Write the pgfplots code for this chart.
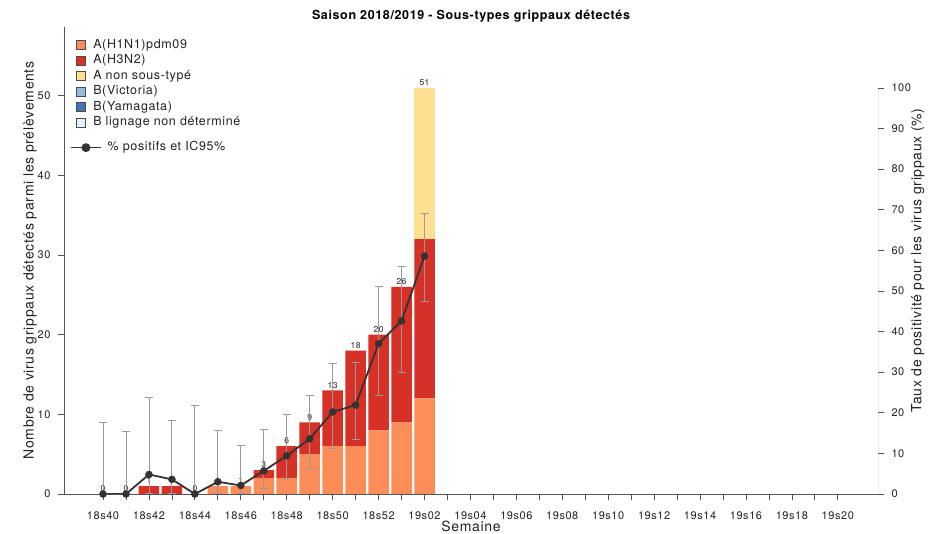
\documentclass[border=0pt]{standalone}
\usepackage{fontspec}
\setmainfont{TeX Gyre Heros}[LetterSpace=5]
\usepackage{pgfplots}
\pgfplotsset{compat=1.18}
\usepackage{pgfplotstable}

\definecolor{cHa}{HTML}{FC8D59}
\definecolor{cHb}{HTML}{D73027}
\definecolor{cAn}{HTML}{FEE090}
\definecolor{cBv}{HTML}{91BFDB}
\definecolor{cBy}{HTML}{4575B4}
\definecolor{cBn}{HTML}{E0F3F8}
\definecolor{axc}{HTML}{555555}
\definecolor{txc}{HTML}{222222}
\definecolor{lc}{HTML}{333333}
\definecolor{erc}{HTML}{9A9A9A}

\pgfplotstableread{
x h1 h3 anst bvic byam bnd tot
0 0 0 0 0 0 0 0
1 0 0 0 0 0 0 0
2 0 1 0 0 0 0 1
3 0 1 0 0 0 0 1
4 0 0 0 0 0 0 0
5 1 0 0 0 0 0 1
6 1 0 0 0 0 0 1
7 2 1 0 0 0 0 3
8 2 4 0 0 0 0 6
9 5 4 0 0 0 0 9
10 6 7 0 0 0 0 13
11 6 12 0 0 0 0 18
12 8 12 0 0 0 0 20
13 9 17 0 0 0 0 26
14 12 20 19 0 0 0 51
}\bars

\pgfplotstableread{
x p ep em
0 0 17.6 0
1 0 15.3 0
2 4.8 18.9 4.7
3 3.6 14.6 3.5
4 0 21.7 0
5 3.0 12.6 2.9
6 2.1 9.9 2.0
7 5.7 10.1 4.4
8 9.4 10.2 5.9
9 13.6 10.7 7.3
10 20.2 11.9 9.0
11 21.9 10.4 8.4
12 37.0 14.2 12.7
13 42.6 13.4 12.7
14 58.6 10.5 11.2
}\pos

\pgfplotsset{
  common/.style={
    at={(64pt,40pt)}, anchor=south west,
    width=814pt, height=467pt, scale only axis,
    xmin=-1.7, xmax=33.75,
    /pgf/number format/assume math mode=true,
  },
  sq/.style={legend image code/.code={\draw[##1,draw=black!70,line width=0.6pt] (0pt,-4.5pt) rectangle (9pt,4.5pt);}},
}

\begin{document}
\begin{tikzpicture}
\useasboundingbox (0,0) rectangle (939pt,534pt);
% bars
\begin{axis}[common,
  ymin=0, ymax=58.65,
  ybar stacked, bar width=20.5pt,
  axis x line*=bottom, axis y line*=left,
  axis line style={draw=axc, line width=0.9pt},
  xtick={0,...,32},
  xticklabels={18s40,,18s42,,18s44,,18s46,,18s48,,18s50,,18s52,,19s02,,19s04,,19s06,,19s08,,19s10,,19s12,,19s14,,19s16,,19s18,,19s20},
  ytick={0,10,...,50},
  tick align=outside, major tick length=6pt,
  tick style={draw=axc, line width=0.8pt},
  ticklabel style={font=\fontsize{11}{13}\selectfont, text=txc},
  xticklabel style={yshift=-8pt},
  yticklabel style={xshift=-4pt},
  xlabel={Semaine}, ylabel={Nombre de virus grippaux détectés parmi les prélèvements},
  xlabel style={at={(axis description cs:0.5,-0.069)}, anchor=center, font=\fontsize{14}{16}\selectfont, text=txc},
  ylabel style={at={(axis description cs:-0.0418,0.5)}, anchor=center, font=\fontsize{14}{16}\selectfont, text=txc},
  every axis title shift=0pt,
  title={Saison 2018/2019 - Sous-types grippaux détectés},
  title style={at={(axis description cs:0.5,1.024)}, anchor=center, font=\bfseries\fontsize{12.5}{14}\selectfont, text=black},
  legend style={at={(axis description cs:0.011,0.983)}, anchor=north west, draw=none, fill=none,
    font=\fontsize{12.5}{14}\selectfont, text=txc, row sep=0pt, column sep=6pt,
    nodes={inner sep=1.5pt, text height=9.5pt, text depth=3pt}},
  legend cell align=left,
]
\addplot[sq, fill=cHa, draw=none] table[x=x, y=h1]{\bars};
\addlegendentry{A(H1N1)pdm09}
\addplot[sq, fill=cHb, draw=none] table[x=x, y=h3]{\bars};
\addlegendentry{A(H3N2)}
\addplot[sq, fill=cAn, draw=none] table[x=x, y=anst]{\bars};
\addlegendentry{A non sous-typé}
\addplot[sq, fill=cBv, draw=none] table[x=x, y=bvic]{\bars};
\addlegendentry{B(Victoria)}
\addplot[sq, fill=cBy, draw=none] table[x=x, y=byam]{\bars};
\addlegendentry{B(Yamagata)}
\addplot[sq, fill=cBn, draw=none] table[x=x, y=bnd]{\bars};
\addlegendentry{B lignage non déterminé}
\end{axis}
% bar totals
\begin{axis}[common, ymin=0, ymax=58.65, hide axis, clip=false,
  nodes near coords style={font=\fontsize{8.5}{10}\selectfont, anchor=south, inner sep=2pt, text=txc}]
\addplot[draw=none, mark=none, nodes near coords, point meta=explicit] table[x=x, y=tot, meta=tot]{\bars};
\end{axis}
% positivity
\begin{axis}[common, ymin=0, ymax=115,
  axis x line=none, axis y line*=right,
  y axis line style={draw=none},
  ytick={0,10,...,100},
  tick align=outside, major tick length=6pt,
  tick style={draw=axc, line width=0.8pt},
  ticklabel style={font=\fontsize{11}{13}\selectfont, text=txc},
  yticklabel style={xshift=4pt},
  ylabel={Taux de positivité pour les virus grippaux (\%)},
  ylabel style={at={(axis description cs:1.049,0.5)}, anchor=center, font=\fontsize{14}{16}\selectfont, text=txc},
  legend style={at={(axis description cs:0.0037,0.764)}, anchor=north west, draw=none, fill=none,
    font=\fontsize{12.5}{14}\selectfont, text=txc, column sep=4pt,
    nodes={inner sep=2pt, text height=9.5pt, text depth=3pt}},
  legend cell align=left,
]
\addplot[forget plot, draw=none, mark=none,
  error bars/.cd, y dir=both, y explicit,
  error bar style={draw=erc, line width=0.9pt},
  error mark options={rotate=90, draw=erc, line width=0.9pt, mark size=4pt}]
  table[x=x, y=p, y error plus=ep, y error minus=em]{\pos};
\addplot[color=lc, line width=1.8pt, mark=*, mark size=3.5pt, mark options={fill=lc, draw=lc, line width=0.5pt},
  legend image code/.code={\draw[lc, line width=1.5pt] (0pt,0pt) -- (30pt,0pt); \fill[lc] (15pt,0pt) circle (3.5pt);}]
  table[x=x, y=p]{\pos};
\addlegendentry{\% positifs et IC95\%}
\draw[axc, line width=0.9pt] (axis cs:33.75,0) -- (axis cs:33.75,100);
\end{axis}
\end{tikzpicture}
\end{document}
